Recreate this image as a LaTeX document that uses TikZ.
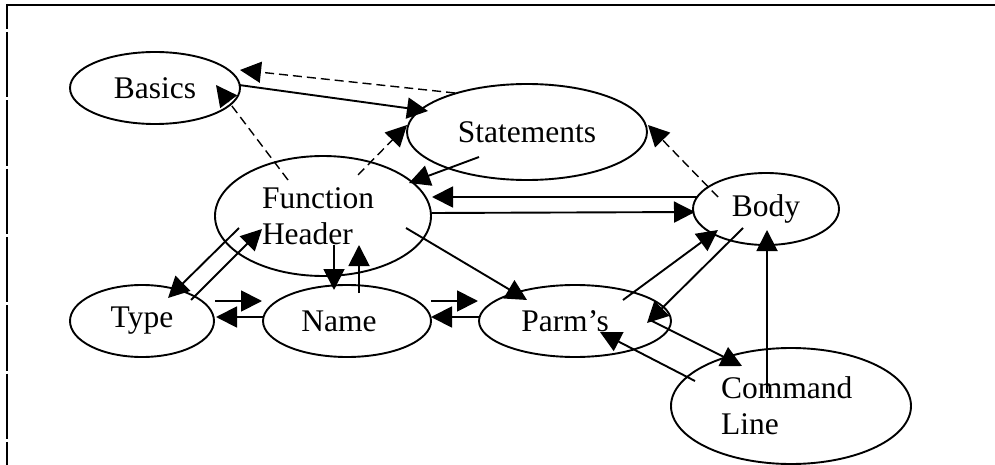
\documentclass[tikz,border=0pt]{standalone}
\usepackage{fontspec}
\setmainfont{Liberation Serif}
\usetikzlibrary{arrows.meta,shapes.geometric}
\begin{document}
\begin{tikzpicture}[x=1pt,y=-1pt,
  state/.style={draw, ellipse, line width=1.9pt, inner sep=0pt,
                font=\fontsize{31.5}{36}\selectfont},
  link/.style={line width=1.9pt, -{Triangle[length=21pt,width=21pt]}},
  hint/.style={line width=1.4pt, dash pattern=on 9pt off 5pt,
               -{Triangle[length=21pt,width=21pt]}},
]
\useasboundingbox (0,0) rectangle (995,465);

% page frame: top rule and broken left rule
\draw[line width=2.8pt] (6,5) -- (995,5);
\draw[line width=2.2pt, dash pattern=on 65.3pt off 3pt, dash phase=40.3pt] (7,4) -- (7,465);

% topics
\node[state, minimum width=170pt, minimum height=72pt]  (basics) at (155,88)  {Basics};
\node[state, minimum width=240pt, minimum height=96pt]  (stmt)   at (527,132) {Statements};
\node[state, minimum width=216pt, minimum height=120pt, text width=122pt, align=left]
                                                          (fh)     at (323,216) {Function\\Header};
\node[state, minimum width=146pt, minimum height=72pt]  (body)   at (766,209) {Body};
\node[state, minimum width=144pt, minimum height=72pt]  (type)   at (142,321) {Type};
\node[state, minimum width=168pt, minimum height=72pt]  (name)   at (347,321) {Name\hspace*{16pt}};
\node[state, minimum width=192pt, minimum height=72pt]  (parms)  at (575,321) {Parm’s\hspace*{20pt}};
\node[state, minimum width=240pt, minimum height=116pt, text width=140pt, align=left]
                                                          (cmd)    at (791,406) {Command\\Line};

% dashed references
\draw[hint] ([shift={(-72,-39)}]stmt.center) -- ([shift={(85,-18)}]basics.center);
\draw[hint] ([shift={(-35,-36)}]fh.center)   -- ([shift={(61,-3)}]basics.center);
\draw[hint] ([shift={(35,-41)}]fh.center)    -- ([shift={(-120,-7)}]stmt.center);
\draw[hint] ([shift={(-48,-12)}]body.center) -- ([shift={(121,-7)}]stmt.center);

% solid links
\draw[link] ([shift={(84,-3)}]basics.center) -- ([shift={(-99,-21)}]stmt.center);
\draw[link] ([shift={(-48,25)}]stmt.center)  -- ([shift={(86,-33)}]fh.center);
\draw[link] ([shift={(-69,-12)}]body.center) -- ([shift={(109,-19)}]fh.center);
\draw[link] ([shift={(109,-3)}]fh.center)    -- ([shift={(-71,3)}]body.center);
\draw[link] ([shift={(83,12)}]fh.center)     -- ([shift={(-48,-21)}]parms.center);
\draw[link] ([shift={(-84,12)}]fh.center)    -- ([shift={(26,-23)}]type.center);
\draw[link] ([shift={(49,-21)}]type.center)  -- ([shift={(-61,13)}]fh.center);
\draw[link] ([shift={(11,29)}]fh.center)     -- ([shift={(-13,-31)}]name.center);
\draw[link] ([shift={(12,-28)}]name.center)  -- ([shift={(36,29)}]fh.center);
\draw[link] ([shift={(73,-20)}]type.center)  -- ([shift={(-85,-20)}]name.center);
\draw[link] ([shift={(-84,-4)}]name.center)  -- ([shift={(74,-4)}]type.center);
\draw[link] ([shift={(84,-20)}]name.center)  -- ([shift={(-97,-20)}]parms.center);
\draw[link] ([shift={(-96,-4)}]parms.center) -- ([shift={(84,-4)}]name.center);
\draw[link] ([shift={(48,-21)}]parms.center) -- ([shift={(-48,21)}]body.center);
\draw[link] ([shift={(-23,19)}]body.center)  -- ([shift={(72,2)}]parms.center);
\draw[link] ([shift={(75,-1)}]parms.center)  -- ([shift={(-49,-40)}]cmd.center);
\draw[link] ([shift={(-96,-25)}]cmd.center)  -- ([shift={(25,11)}]parms.center);
\draw[link] ([shift={(-24,-13)}]cmd.center)  -- ([shift={(1,21)}]body.center);
\end{tikzpicture}
\end{document}
